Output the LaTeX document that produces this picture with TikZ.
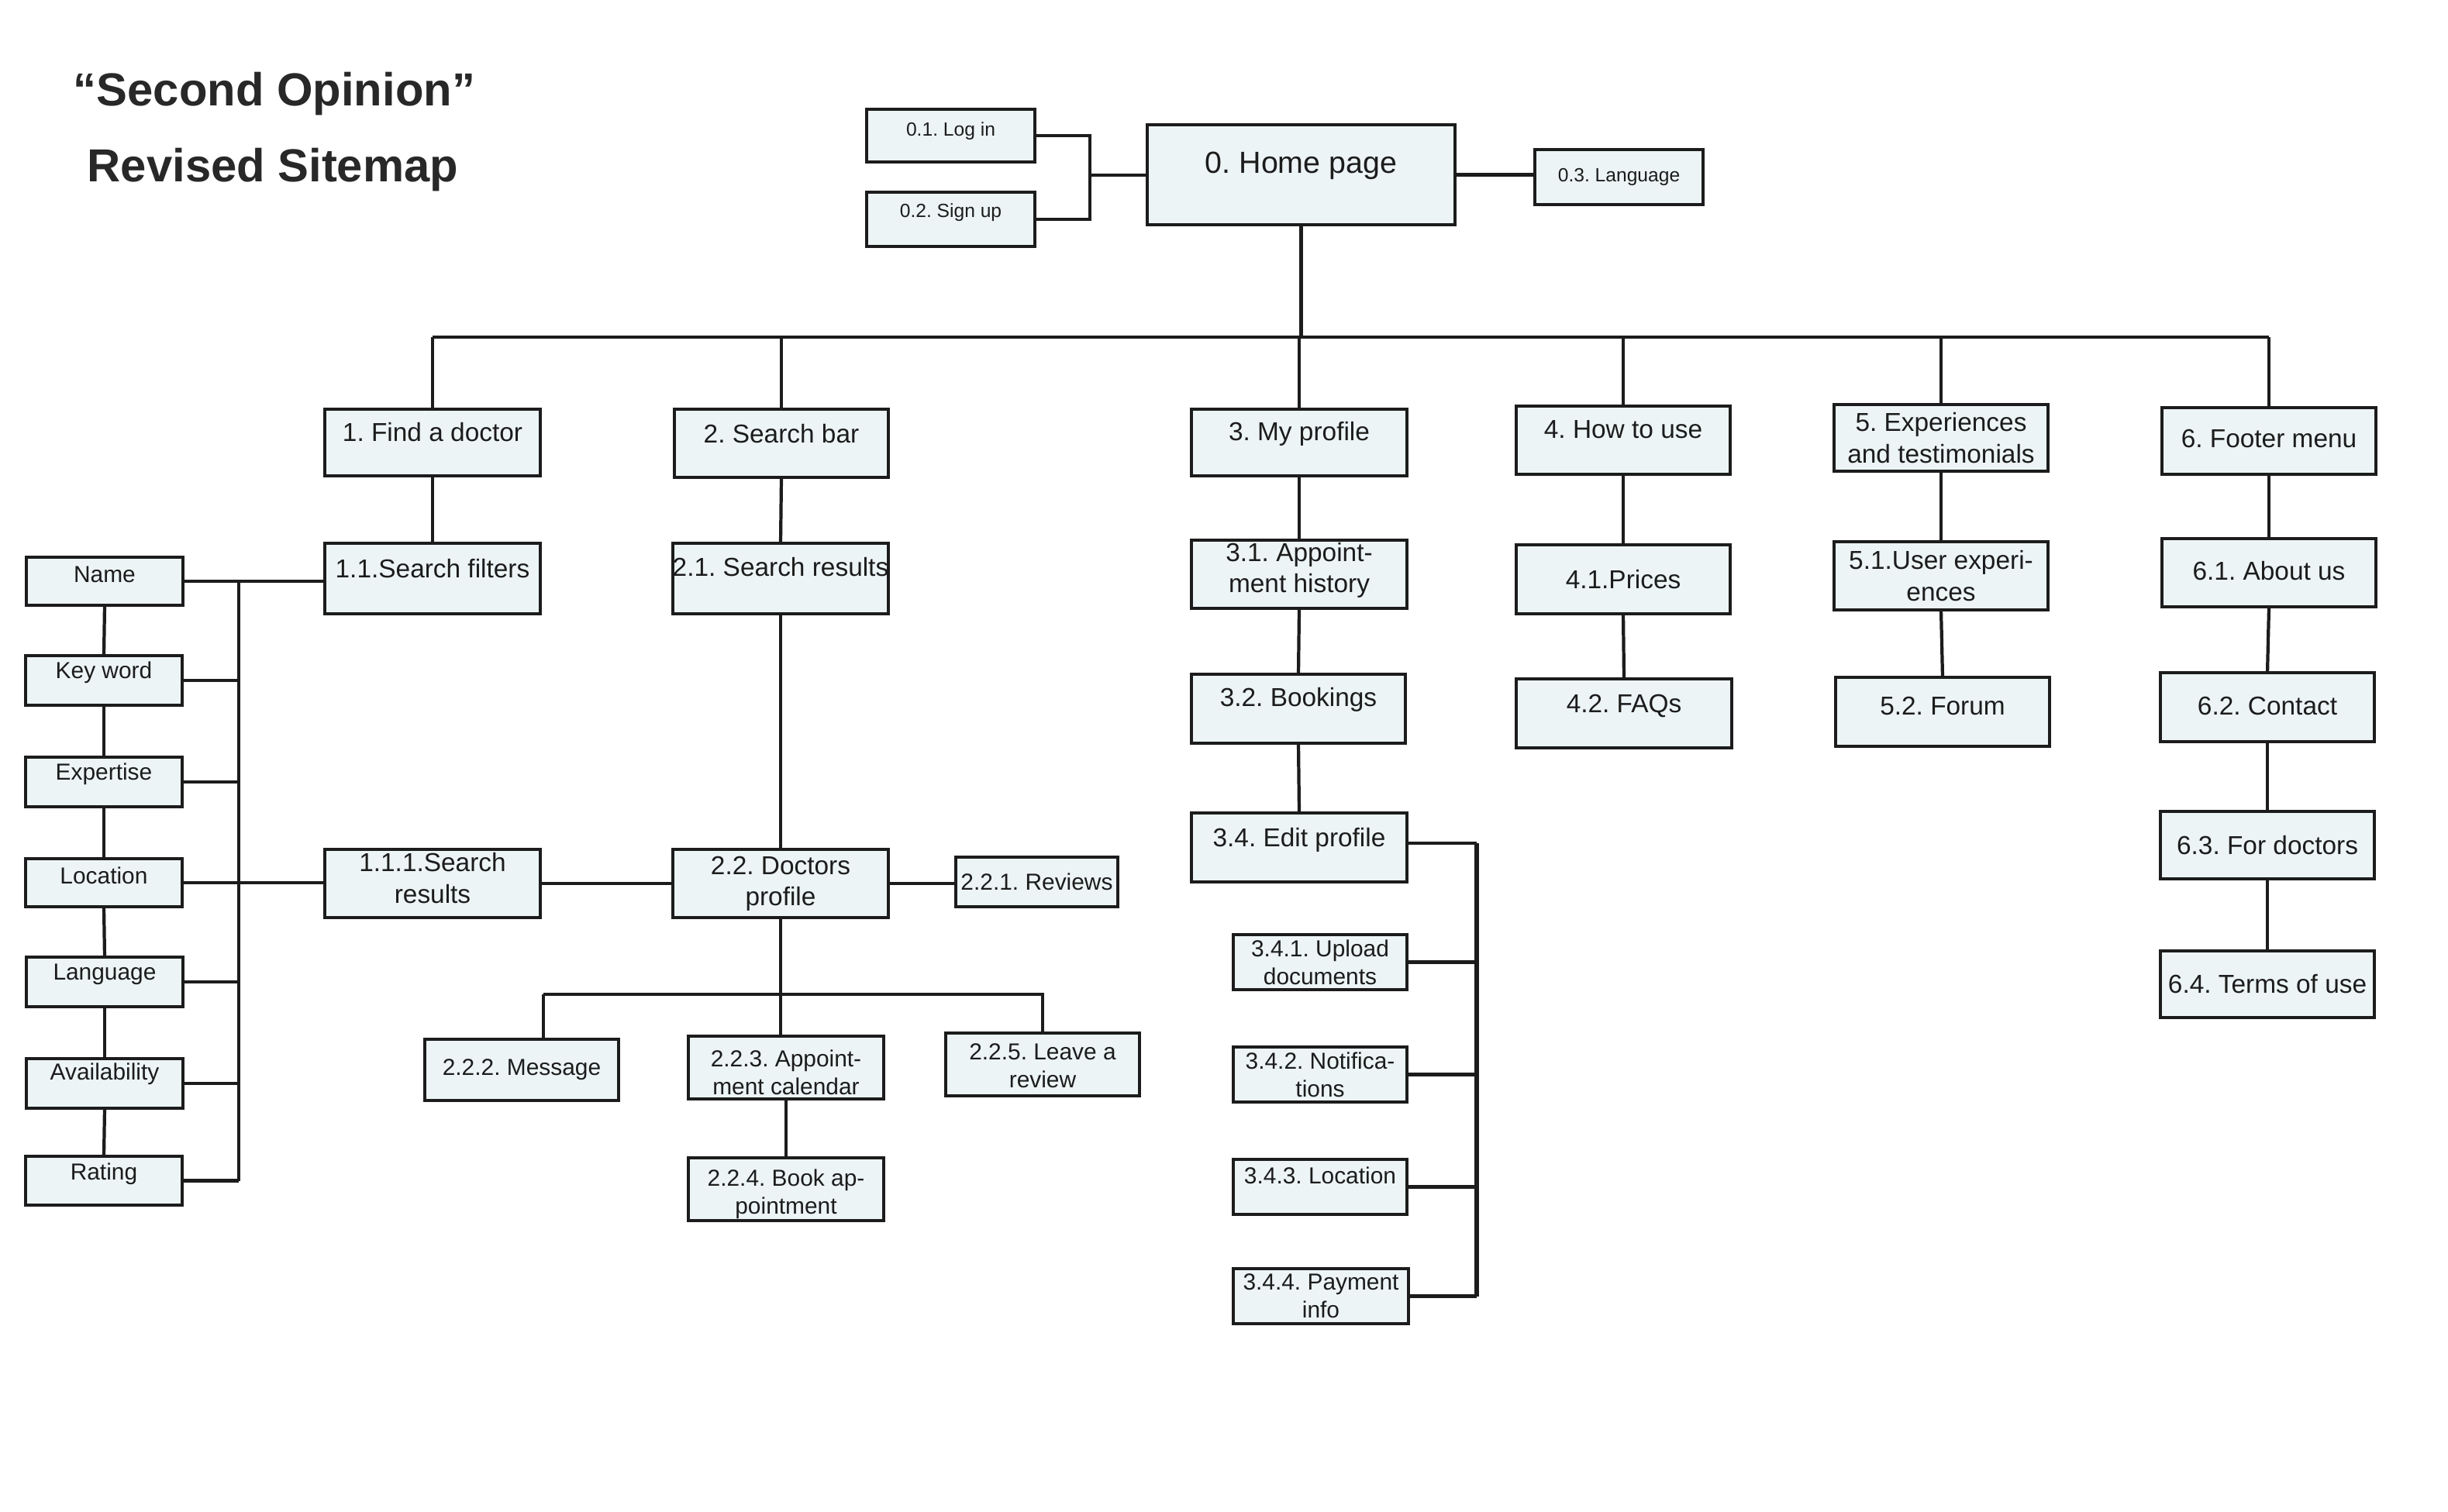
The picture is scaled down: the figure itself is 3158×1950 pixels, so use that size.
\documentclass[tikz,border=0pt]{standalone}
\usepackage{fontspec}
\setmainfont{Liberation Sans}
\usetikzlibrary{fit}
\frenchspacing
\definecolor{boxfill}{RGB}{236,244,245}
\definecolor{ink}{RGB}{28,28,28}
\definecolor{titleink}{RGB}{40,40,40}
\tikzset{
  box/.style={draw=ink, line width=1.25pt, fill=boxfill, inner sep=0pt, outer sep=0pt},
  lbl/.style={inner sep=0pt, align=center, text=ink},
  main/.style={font=\fontsize{9.5}{11.4}\selectfont},
  sm/.style={font=\fontsize{7}{8.4}\selectfont},
  sub/.style={font=\fontsize{8.5}{10.2}\selectfont},
  homef/.style={font=\fontsize{11.2}{13.4}\selectfont},
  titlef/.style={inner sep=0pt, text=titleink, font=\fontsize{17}{20}\selectfont\bfseries},
  conn/.style={draw=ink, line width=1.2pt},
  thickconn/.style={draw=ink, line width=1.7pt},
}
% \SMbox[label style]{name}{x1}{y1}{x2}{y2}{text}
\newcommand\SMbox[7][]{%
  \node[box, fit={(#3,#4) (#5,#6)}] (#2) {};
  \node[lbl, #1] (#2t) at (#2.center) {#7};
}
\begin{document}
\begin{tikzpicture}[x=0.01cm, y=-0.01cm]
\useasboundingbox (0,0) rectangle (3158,1950);
\fill[white] (0,0) rectangle (3158,1950);

% title
\node[titlef] (title1) at (354,121) {“Second Opinion”};
\node[titlef] (title2) at (352,219) {Revised Sitemap};

% top
\SMbox[sm, yshift=0.06cm]{login}{1118}{141}{1335}{209}{0.1. Log in}
\SMbox[sm, yshift=0.09cm]{signup}{1118}{248}{1335}{318}{0.2. Sign up}
\SMbox[homef, yshift=0.12cm]{home}{1480}{161}{1877}{290}{0. Home page}
\SMbox[sm]{lang}{1980}{193}{2197}{264}{0.3. Language}

% level 1
\SMbox[main, yshift=0.13cm]{b1}{419}{528}{697}{614}{1. Find a doctor}
\SMbox[main, yshift=0.12cm]{b2}{870}{528}{1146}{616}{2. Search bar}
\SMbox[main, yshift=0.11cm]{b3}{1537}{528}{1815}{614}{3. My profile}
\SMbox[main, yshift=0.14cm]{b4}{1956}{524}{2232}{612}{4. How to use}
\SMbox[main]{b5}{2366}{522}{2642}{608}{5. Experiences\\and testimonials}
\SMbox[main, yshift=0.03cm]{b6}{2789}{526}{3065}{612}{6. Footer menu}

% level 2
\SMbox[main, yshift=0.13cm]{b11}{419}{701}{697}{792}{1.1.Search filters}
\SMbox[main, yshift=0.15cm]{b21}{868}{701}{1146}{792}{2.1. Search results}
\SMbox[main, yshift=0.05cm]{b31}{1537}{697}{1815}{785}{3.1. Appoint-\\ment history}
\SMbox[main, yshift=0.12cm]{b32}{1537}{870}{1813}{959}{3.2. Bookings}
\SMbox[main, yshift=0.10cm]{b34}{1537}{1049}{1815}{1138}{3.4. Edit profile}
\SMbox[main]{b41}{1956}{703}{2232}{792}{4.1.Prices}
\SMbox[main, yshift=0.10cm]{b42}{1956}{876}{2234}{965}{4.2. FAQs}
\SMbox[main]{b51}{2366}{699}{2642}{787}{5.1.User experi-\\ences}
\SMbox[main, yshift=0.08cm]{b52}{2368}{874}{2644}{963}{5.2. Forum}
\SMbox[main, yshift=0.02cm]{b61}{2789}{695}{3065}{783}{6.1. About us}
\SMbox[main, yshift=0.02cm]{b62}{2787}{868}{3063}{957}{6.2. Contact}
\SMbox[main]{b63}{2787}{1047}{3063}{1134}{6.3. For doctors}
\SMbox[main]{b64}{2787}{1227}{3063}{1313}{6.4. Terms of use}

% filters
\SMbox[sub, yshift=0.09cm]{f1}{34}{719}{236}{781}{Name}
\SMbox[sub, yshift=0.10cm]{f2}{33}{846}{235}{910}{Key word}
\SMbox[sub, yshift=0.10cm]{f3}{33}{977}{235}{1041}{Expertise}
\SMbox[sub, yshift=0.09cm]{f4}{33}{1108}{235}{1170}{Location}
\SMbox[sub, yshift=0.10cm]{f5}{34}{1235}{236}{1299}{Language}
\SMbox[sub, yshift=0.12cm]{f6}{34}{1366}{236}{1430}{Availability}
\SMbox[sub, yshift=0.09cm]{f7}{33}{1492}{235}{1555}{Rating}

\SMbox[main, yshift=0.07cm]{b111}{419}{1096}{697}{1184}{1.1.1.Search\\results}
\SMbox[main]{b22}{868}{1096}{1146}{1184}{2.2. Doctors\\profile}
\SMbox[sub]{b221}{1233}{1106}{1442}{1170}{2.2.1. Reviews}
\SMbox[sub]{b222}{548}{1341}{798}{1420}{2.2.2. Message}
\SMbox[sub, yshift=-0.06cm]{b223}{888}{1337}{1140}{1418}{2.2.3. Appoint-\\ment calendar}
\SMbox[sub, yshift=-0.06cm]{b224}{888}{1494}{1140}{1575}{2.2.4. Book ap-\\pointment}
\SMbox[sub, yshift=-0.02cm]{b225}{1220}{1333}{1470}{1414}{2.2.5. Leave a\\review}

\SMbox[sub]{b341}{1591}{1206}{1815}{1277}{3.4.1. Upload\\documents}
\SMbox[sub]{b342}{1591}{1351}{1815}{1422}{3.4.2. Notifica-\\tions}
\SMbox[sub, yshift=0.15cm]{b343}{1591}{1496}{1815}{1567}{3.4.3. Location}
\SMbox[sub]{b344}{1591}{1637}{1817}{1708}{3.4.4. Payment\\info}

% ---- connectors ----
\coordinate (hj) at (1406,226);
\draw[conn] (login.east) -| (hj) |- (signup.east);
\draw[conn] (hj) -- (hj -| home.west);
\draw[conn] (home.east) -- (home.east -| lang.west);

\coordinate (bus) at (1678,435);
\draw[conn] (home.south) -- (home.south |- bus);
\draw[conn] (b1.north |- bus) -- (b6.north |- bus);
\foreach \n in {b1,b2,b3,b4,b5,b6}{\draw[conn] (\n.north |- bus) -- (\n.north);}

\draw[conn] (b1.south) -- (b11.north);
\draw[conn] (b2.south) -- (b21.north);
\draw[conn] (b21.south) -- (b22.north);
\draw[conn] (b3.south) -- (b31.north);
\draw[conn] (b31.south) -- (b32.north);
\draw[conn] (b32.south) -- (b34.north);
\draw[conn] (b4.south) -- (b41.north);
\draw[conn] (b41.south) -- (b42.north);
\draw[conn] (b5.south) -- (b51.north);
\draw[conn] (b51.south) -- (b52.north);
\draw[conn] (b6.south) -- (b61.north);
\draw[conn] (b61.south) -- (b62.north);
\draw[conn] (b62.south) -- (b63.north);
\draw[conn] (b63.south) -- (b64.north);

% filters
\coordinate (fb) at (308,0);
\draw[conn] (f1.south) -- (f2.north);
\draw[conn] (f2.south) -- (f3.north);
\draw[conn] (f3.south) -- (f4.north);
\draw[conn] (f4.south) -- (f5.north);
\draw[conn] (f5.south) -- (f6.north);
\draw[conn] (f6.south) -- (f7.north);
\draw[conn] (f1.east -| fb) -- (f7.east -| fb);
\draw[conn] (f1.east) -- (f1.east -| b11.west);
\draw[conn] (f4.east) -- (f4.east -| b111.west);
\foreach \n in {f2,f3,f5,f6,f7}{\draw[conn] (\n.east) -- (\n.east -| fb);}

\draw[conn] (b111.east) -- (b22.west);
\draw[conn] (b22.east) -- (b22.east -| b221.west);

% doctors profile children
\coordinate (db) at (701,1283);
\draw[conn] (b22.south) -- (b22.south |- b223.north);
\draw[conn] (db) -- (db -| b225.north) -- (b225.north);
\draw[conn] (db) -- (db |- b222.north);
\draw[conn] (b223.south) -- (b224.north);

% edit profile children
\coordinate (eb) at (1905,1088);
\draw[conn] (b34.east |- eb) -- (eb);
\draw[thickconn] (eb) -- (eb |- b344.east);
\foreach \n in {b341,b342,b343,b344}{\draw[conn] (\n.east) -- (\n.east -| eb);}
\end{tikzpicture}
\end{document}
